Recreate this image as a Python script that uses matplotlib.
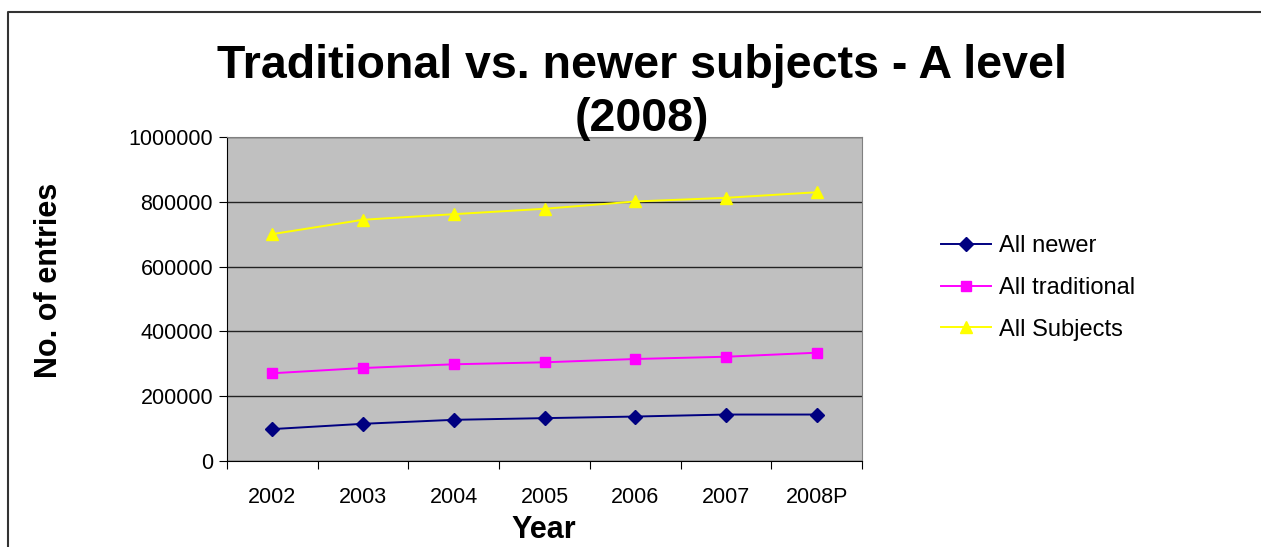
import matplotlib
matplotlib.use('Agg')
import matplotlib.pyplot as plt
from matplotlib.lines import Line2D

plt.rcParams['font.family'] = ['Liberation Sans', 'DejaVu Sans']

# データ
years = ['2002', '2003', '2004', '2005', '2006', '2007', '2008P']
all_newer = [98500, 114800, 127100, 132300, 137200, 143400, 143400]
all_traditional = [270800, 287000, 298500, 304600, 314800, 321800, 334200]
all_subjects = [700300, 744600, 761800, 778500, 801000, 812300, 829500]

fig = plt.figure(figsize=(12.61, 5.47), dpi=100)
ax = fig.add_axes([227/1261, 1-461/547, 635/1261, 324/547])
ax.set_facecolor('#C0C0C0')

x = [i + 0.5 for i in range(len(years))]
ax.plot(x, all_newer, color='#000080', marker='D', markersize=7, lw=1.4, label='All newer')
ax.plot(x, all_traditional, color='#FF00FF', marker='s', markersize=7, lw=1.4, label='All traditional')
ax.plot(x, all_subjects, color='#FFFF00', marker='^', markersize=8, lw=1.4, label='All Subjects')

ax.set_xlim(0, 7)
ax.set_ylim(0, 1000000)
ax.set_yticks(range(0, 1000001, 200000))
ax.set_yticklabels([str(v) for v in range(0, 1000001, 200000)])
ax.set_xticks(range(0, 8))
ax.set_xticklabels([])
ax.set_xticks(x, minor=True)
ax.set_xticklabels(years, minor=True)
ax.tick_params(axis='x', which='minor', length=0, pad=19, labelsize=15.5)
ax.tick_params(axis='x', which='major', length=6, direction='out', color='black')
ax.tick_params(axis='y', length=6, direction='out', pad=4, labelsize=15.5)
ax.yaxis.grid(True, color='#222222', lw=1)
ax.set_axisbelow(True)
for s in ['top', 'right']:
    ax.spines[s].set_color('#808080')
for s in ['left', 'bottom']:
    ax.spines[s].set_color('black')

ax.set_xlabel('Year', fontsize=22, fontweight='bold', va='center')
ax.xaxis.set_label_coords(0.499, (461-530)/324)
ax.set_ylabel('No. of entries', fontsize=22, fontweight='bold', va='center')
ax.yaxis.set_label_coords((49-227)/635, (461-280)/324)

# タイトル
fig.text(642/1261, 1-78/547, 'Traditional vs. newer subjects - A level', fontsize=33.5,
         fontweight='bold', ha='center', va='baseline')
fig.text(642/1261, 1-131/547, '(2008)', fontsize=33.5,
         fontweight='bold', ha='center', va='baseline')

ax.legend(loc='center left', bbox_to_anchor=(941/1261, 1-288/547), bbox_transform=fig.transFigure,
          frameon=False, fontsize=17, handlelength=2.1, labelspacing=0.83, handletextpad=0.35,
          borderaxespad=0, borderpad=0)

# 外枠
fig.add_artist(Line2D([8/1261, 8/1261, 1], [0, 1-12/547, 1-12/547], color='#333333', lw=1.5,
                      transform=fig.transFigure))

fig.savefig('out.png', dpi=100)
